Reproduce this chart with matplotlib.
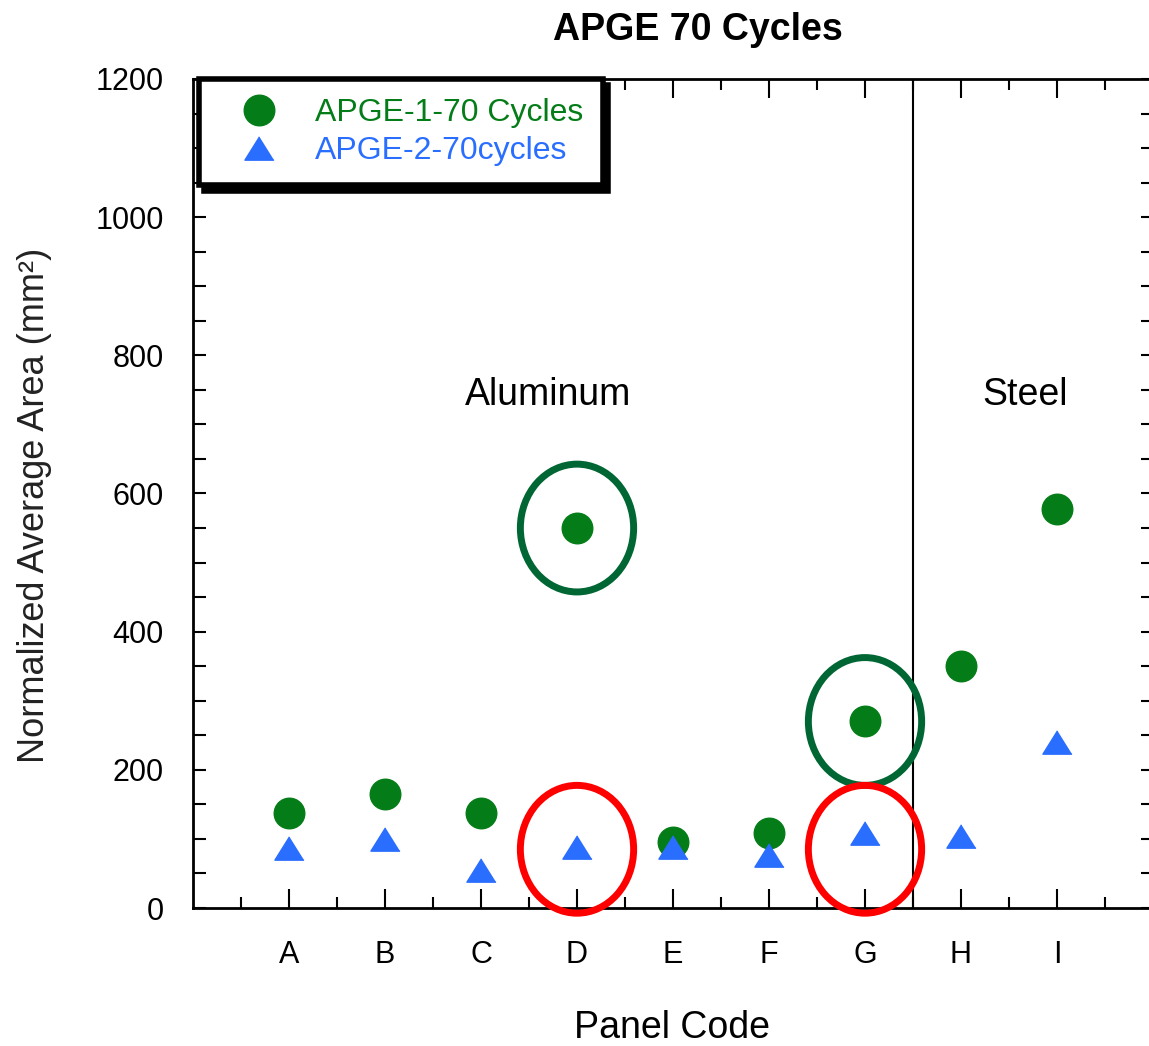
import numpy as np
import matplotlib
matplotlib.use("Agg")
import matplotlib.pyplot as plt
from matplotlib.patches import Ellipse

plt.rcParams['font.family'] = ['Liberation Sans', 'DejaVu Sans']

# data
panels = ['A', 'B', 'C', 'D', 'E', 'F', 'G', 'H', 'I']
apge1 = [138, 165, 138, 550, 96, 108, 270, 350, 578]
apge2 = [87, 100, 55, 88, 88, 77, 108, 104, 240]
label1 = 'APGE-1-70 Cycles'
label2 = 'APGE-2-70cycles'

# highlight rings (x position, y centre, colour)
ring_x = [4, 4, 7, 7]
ring_y = [550, 85, 270, 85]
ring_c = ['#006633', '#FF0000', '#006633', '#FF0000']

green = '#047D18'
blue = '#2A6EFF'

x = np.arange(1, len(panels) + 1)

fig = plt.figure(figsize=(11.49, 10.46), dpi=100)
ax = fig.add_axes([193 / 1149, 1 - 908 / 1046, 960 / 1149, 829 / 1046])

tri = [(0, 0.8), (-1, -0.8), (1, -0.8)]
ax.plot(x, apge1, linestyle='none', marker='o', ms=22, color=green,
        mec=green, label=label1, zorder=3)
ax.plot(x, apge2, linestyle='none', marker=tri, ms=21, color=blue,
        mec=blue, label=label2, zorder=4)

for rx, ry, rc in zip(ring_x, ring_y, ring_c):
    ax.add_patch(Ellipse((rx, ry), 1.18, 185, fill=False, edgecolor=rc,
                         lw=5, clip_on=False, zorder=5))

ax.axvline(7.5, color='black', lw=1.5, zorder=2)

ax.set_xlim(0, 10)
ax.set_ylim(0, 1200)
ax.set_xticks(x)
ax.set_xticklabels(panels)
ax.set_xticks(np.arange(0.5, 10, 1), minor=True)
ax.set_yticks(np.arange(0, 1201, 200))
ax.set_yticks(np.arange(0, 1201, 50), minor=True)

ax.tick_params(axis='x', which='major', direction='in', length=14, width=1.5,
               top=True, labelsize=22, pad=23)
ax.tick_params(axis='x', which='minor', direction='in', length=8, width=1.5,
               top=True)
ax.tick_params(axis='y', which='both', direction='in', length=9, width=1.5,
               right=True, labelsize=22, pad=21)
for s in ax.spines.values():
    s.set_linewidth(2)

ax.text(3.7, 742, 'Aluminum', fontsize=27, ha='center', va='center')
ax.text(8.67, 742, 'Steel', fontsize=27, ha='center', va='center')

ax.set_xlabel('Panel Code', fontsize=27)
ax.xaxis.set_label_coords(0.499, -0.123)
ax.set_ylabel('Normalized Average Area (mm²)', fontsize=26, color='#222222')
ax.yaxis.set_label_coords(-0.147, 0.486)

fig.text(698 / 1149, 1 - 30 / 1046, 'APGE 70 Cycles', fontsize=27,
         fontweight='bold', ha='center', va='center')

leg = ax.legend(loc='upper left', bbox_to_anchor=(0.006, 1.0), borderaxespad=0,
                fontsize=23, handlelength=2.6, handletextpad=0.45,
                borderpad=0.6, labelspacing=0.25, fancybox=False,
                labelcolor='markerfacecolor',
                shadow={'ox': 4, 'oy': -4, 'color': 'black', 'alpha': 1})
leg.get_frame().set_edgecolor('black')
leg.get_frame().set_linewidth(4)

fig.savefig('out.png', dpi=100)
